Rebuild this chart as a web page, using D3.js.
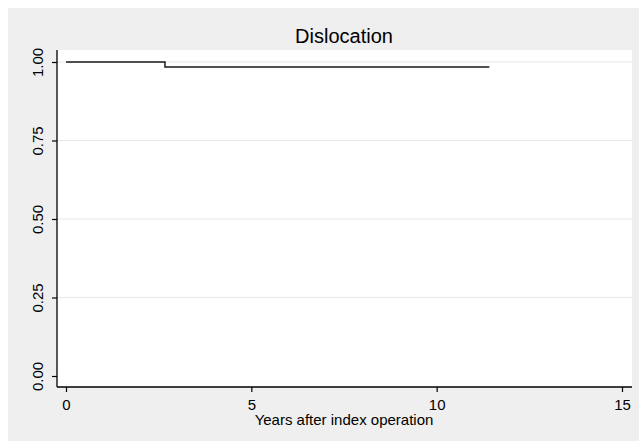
<!DOCTYPE html>
<html>
<head>
<meta charset="utf-8">
<script src="https://cdn.jsdelivr.net/npm/d3@7"></script>
<style>
  html, body { margin: 0; padding: 0; background: #fff; }
  svg { display: block; font-family: "Liberation Sans", Arial, sans-serif; }
</style>
</head>
<body>
<svg id="chart" width="639" height="441"></svg>
<script>
// Kaplan-Meier survival estimate, dislocation-free
const stepTimes = [0, 2.67, 11.42];
const stepSurvival = [1.0, 0.984, 0.984];
const xTicks = [0, 5, 10, 15];
const yTicks = [0, 0.25, 0.5, 0.75, 1.0];
const titleText = "Dislocation";
const xTitle = "Years after index operation";

const svg = d3.select("#chart");
const W = 639, H = 441;

// graph region background
svg.append("rect").attr("x", 8).attr("y", 8).attr("width", W - 8).attr("height", H - 8)
  .attr("fill", "#efefef");

const plot = { left: 57, right: 632, top: 50, bottom: 387 };
svg.append("rect").attr("x", plot.left).attr("y", plot.top)
  .attr("width", plot.right - plot.left).attr("height", plot.bottom - plot.top)
  .attr("fill", "#fff");

const x = d3.scaleLinear().domain([0, 15]).range([66, 622]);
const y = d3.scaleLinear().domain([0, 1]).range([376, 62]);

// horizontal grid lines
svg.append("g").selectAll("line").data(yTicks.filter(d => d > 0)).join("line")
  .attr("x1", plot.left).attr("x2", plot.right)
  .attr("y1", d => y(d)).attr("y2", d => y(d))
  .attr("stroke", "#e8e8e8").attr("stroke-width", 1.2);

// y axis
const yAxis = svg.append("g").attr("transform", `translate(${plot.left},0)`)
  .call(d3.axisLeft(y).tickValues(yTicks).tickFormat(d3.format(".2f")).tickSize(5).tickPadding(6));
yAxis.select(".domain").attr("d", `M0,${plot.top}V${plot.bottom}`).attr("stroke", "#000").attr("stroke-width", 1.3);
yAxis.selectAll(".tick line").attr("stroke", "#000").attr("stroke-width", 1.2);
yAxis.selectAll(".tick text")
  .attr("font-size", 15).attr("fill", "#000")
  .attr("text-anchor", "middle")
  .attr("transform", "rotate(-90)")
  .attr("x", 0).attr("y", -14).attr("dy", "0");

// x axis
const xAxis = svg.append("g").attr("transform", `translate(0,${plot.bottom})`)
  .call(d3.axisBottom(x).tickValues(xTicks).tickFormat(d3.format("d")).tickSize(5).tickPadding(4));
xAxis.select(".domain").attr("d", `M${plot.left},0H${plot.right}`).attr("stroke", "#000").attr("stroke-width", 1.3);
xAxis.selectAll(".tick line").attr("stroke", "#000").attr("stroke-width", 1.2);
xAxis.selectAll(".tick text").attr("font-size", 15).attr("fill", "#000")
  .attr("y", 23).attr("dy", "0");

// survival step line
const pts = stepTimes.map((t, i) => [t, stepSurvival[i]]);
const line = d3.line().x(d => x(d[0])).y(d => y(d[1])).curve(d3.curveStepAfter);
svg.append("path").datum(pts).attr("d", line)
  .attr("fill", "none").attr("stroke", "#1a1a1a").attr("stroke-width", 1.5);

// titles
svg.append("text").attr("x", 344).attr("y", 43).attr("text-anchor", "middle")
  .attr("font-size", 20).attr("fill", "#000").text(titleText);
svg.append("text").attr("x", 344).attr("y", 425).attr("text-anchor", "middle")
  .attr("font-size", 15).attr("fill", "#000").text(xTitle);
</script>
</body>
</html>
